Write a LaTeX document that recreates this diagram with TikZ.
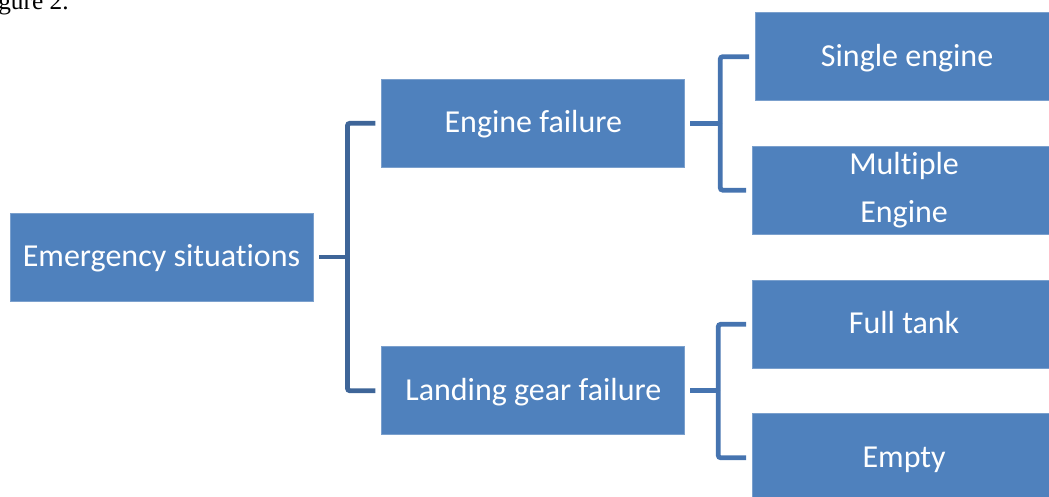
\documentclass[tikz,border=0pt]{standalone}
\usepackage{fontspec}
\setmainfont{Carlito}[RawFeature=-liga]
\newfontfamily\capfont{Liberation Serif}
\usepackage{tikz}
\usetikzlibrary{calc}
\usetikzlibrary{positioning}

\definecolor{boxblue}{HTML}{4F81BD}
\definecolor{linkdark}{HTML}{3E6598}
\definecolor{linkblue}{HTML}{4674B0}

\begin{document}
\begin{tikzpicture}[
  x=0.75pt, y=-0.75pt,
  situation/.style={rectangle, fill=boxblue, draw=boxblue!75!white, line width=0.6pt, text=white, minimum width=227.25pt, minimum height=66pt, inner sep=0pt, align=center, text height=19pt, text depth=5pt, font=\fontsize{24}{28}\selectfont},
  link/.style={line width=3.6pt, draw=linkblue, rounded corners=2pt},
  rootlink/.style={link, draw=linkdark}
]
\useasboundingbox (0,0) rectangle (1049,496);

\node[anchor=base west, inner sep=0pt, font=\capfont\fontsize{19}{19}\selectfont] (caption) at (-2,9.5) {gure 2.};

\node[situation] (root) at (161.5,257) {Emergency situations};
\node[situation, above right=33.75pt and 51pt of root] (engine) {Engine failure};
\node[situation, below right=33.75pt and 51pt of root] (gear) {Landing gear failure};

\node[situation, right=52.5pt of engine, yshift=49.9pt] (single) {Single engine};
\node[situation, right=50.25pt of engine, yshift=-50.25pt, text height=, text depth=, font=\fontsize{24}{36}\selectfont] (multiple) {Multiple\\Engine};
\node[situation, right=50.25pt of gear, yshift=49.9pt] (full) {Full tank};
\node[situation, right=50.25pt of gear, yshift=-50.25pt] (empty) {Empty};

% forks
\coordinate (rootfork) at ($(root.east)+(25.5pt,0)$);
\coordinate (enginefork) at ($(engine.east)+(26.25pt,0)$);
\coordinate (gearfork) at ($(gear.east)+(24.75pt,0)$);

\draw[rootlink] ([xshift=4.5pt]root.east) -- (rootfork);
\draw[rootlink] (rootfork) |- ([xshift=-4.5pt]engine.west);
\draw[rootlink] (rootfork) |- ([xshift=-4.5pt]gear.west);

\draw[link] ([xshift=3.75pt]engine.east) -- (enginefork);
\draw[link] (enginefork) |- ([xshift=-4.5pt]single.west);
\draw[link] (enginefork) |- ([xshift=-4.5pt]multiple.west);

\draw[link] ([xshift=3.75pt]gear.east) -- (gearfork);
\draw[link] (gearfork) |- ([xshift=-4.5pt]full.west);
\draw[link] (gearfork) |- ([xshift=-4.5pt]empty.west);
\end{tikzpicture}
\end{document}
